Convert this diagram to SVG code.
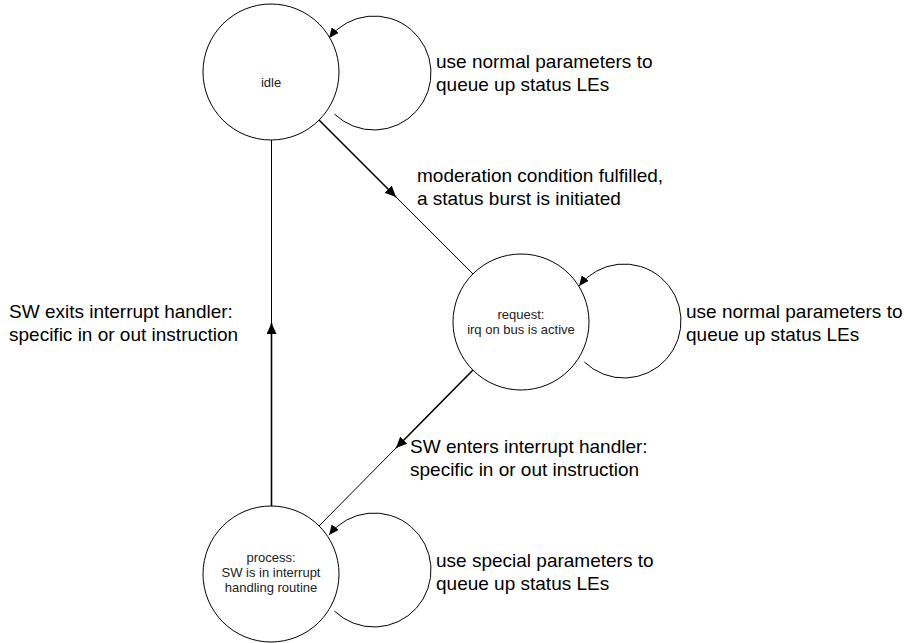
<svg xmlns="http://www.w3.org/2000/svg" width="908" height="643" viewBox="0 0 908 643">
<style>
.node{fill:#fff;stroke:#000;stroke-width:1}
.nl{font-family:"Liberation Sans",Arial,sans-serif;font-size:13px;fill:#222;text-anchor:middle}
.el{font-family:"Liberation Sans",Arial,sans-serif;font-size:19px;fill:#000}
.thick{fill:none;stroke:#000;stroke-width:1.6}
.thin{fill:none;stroke:#000;stroke-width:1}
.loop{fill:none;stroke:#000;stroke-width:1}
</style>
<defs>
<marker id="ah" markerUnits="userSpaceOnUse" markerWidth="12" markerHeight="10" refX="11" refY="5" orient="auto">
<path d="M0,0 L11,5 L0,10 z" fill="#000"/>
</marker>
<marker id="ahs" markerUnits="userSpaceOnUse" markerWidth="11" markerHeight="9" refX="10" refY="4.5" orient="auto">
<path d="M0,0 L10,4.5 L0,9 z" fill="#000"/>
</marker>
</defs>
<rect width="908" height="643" fill="#fff"/>
<g id="connectors">
<path class="thick" d="M319,120 L396,197" marker-end="url(#ah)"/>
<path class="thin" d="M396,197 L473,274"/>
<path class="thick" d="M473,370 L396,448" marker-end="url(#ah)"/>
<path class="thin" d="M396,448 L319,526"/>
<path class="thick" d="M271.5,506 L271.5,323" marker-end="url(#ah)"/>
<path class="thin" d="M271.5,323 L271.5,140"/>
<path class="loop" d="M334.4,114 A57,57 0 1 0 329.1,37.9" marker-end="url(#ahs)"/>
<path class="loop" d="M584.4,362 A57,57 0 1 0 579.1,285.9" marker-end="url(#ahs)"/>
<path class="loop" d="M334.4,611 A57,57 0 1 0 329.1,534.9" marker-end="url(#ahs)"/>
</g>
<g id="idle">
<circle class="node" cx="271" cy="72" r="68"/>
<text class="nl" x="271" y="87">idle</text>
</g>
<g id="request">
<circle class="node" cx="521" cy="322" r="68"/>
<text class="nl" x="521" y="319">request:</text>
<text class="nl" x="521" y="334">irq on bus is active</text>
</g>
<g id="process">
<circle class="node" cx="271" cy="574" r="68"/>
<text class="nl" x="271" y="562">process:</text>
<text class="nl" x="271" y="577">SW is in interrupt</text>
<text class="nl" x="271" y="592">handling routine</text>
</g>
<g id="labels">
<text class="el" x="436" y="68">use normal parameters to</text>
<text class="el" x="436" y="91">queue up status LEs</text>
<text class="el" x="417" y="182">moderation condition fulfilled,</text>
<text class="el" x="417" y="205">a status burst is initiated</text>
<text class="el" x="686" y="318">use normal parameters to</text>
<text class="el" x="686" y="341">queue up status LEs</text>
<text class="el" x="9" y="318">SW exits interrupt handler:</text>
<text class="el" x="9" y="341">specific in or out instruction</text>
<text class="el" x="410" y="453">SW enters interrupt handler:</text>
<text class="el" x="410" y="476">specific in or out instruction</text>
<text class="el" x="436" y="567">use special parameters to</text>
<text class="el" x="436" y="590">queue up status LEs</text>
</g>
</svg>
